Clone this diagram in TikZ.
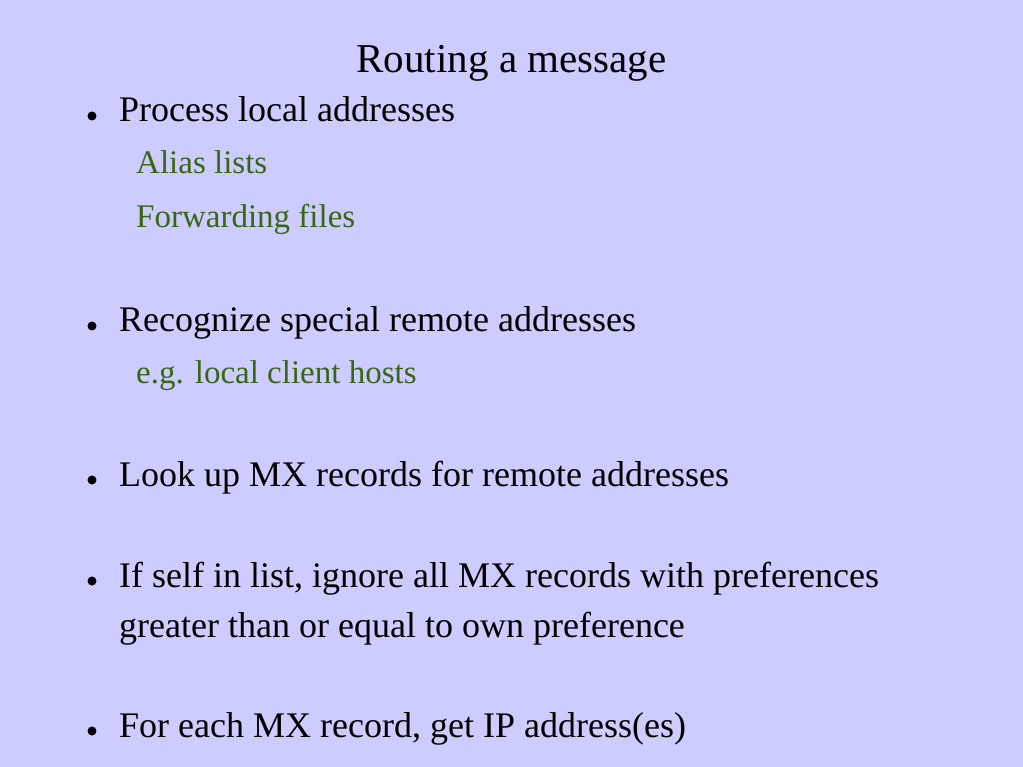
\documentclass[tikz,border=0pt]{standalone}
\usepackage{fontspec}
\setmainfont{Liberation Serif}
\definecolor{bg}{RGB}{204,204,255}
\definecolor{sub}{RGB}{58,102,20}
\begin{document}
\begin{tikzpicture}[x=1pt,y=-1pt,
  main/.style={anchor=base west,inner sep=0pt,font=\fontsize{36}{40}\selectfont,text=black},
  subt/.style={anchor=base west,inner sep=0pt,font=\fontsize{33}{36}\selectfont,text=sub},
  ttl/.style={anchor=base,inner sep=0pt,font=\fontsize{41}{44}\selectfont,text=black},
  dot/.style={circle,fill=black,inner sep=0pt,minimum size=9pt}]
\fill[bg] (0,0) rectangle (1023,767);
\useasboundingbox (0,0) rectangle (1023,767);
\node[ttl] (title) at (511.5,73) {Routing a message};
\node[dot] (b1) at (92,116) {};
\node[main] (t1) at (119,122) {Process local addresses};
\node[subt] (s1) at (136,174) {Alias lists};
\node[subt] (s2) at (136,228) {Forwarding files};
\node[dot] (b2) at (92,326) {};
\node[main] (t2) at (119,332) {Recognize special remote addresses};
\node[subt] (s3) at (136,383) {e.g. local client hosts};
\node[dot] (b3) at (92,480) {};
\node[main] (t3) at (119,486) {Look up MX records for remote addresses};
\node[dot] (b4) at (92,581) {};
\node[main] (t4) at (119,587) {If self in list, ignore all MX records with preferences};
\node[main] (t5) at (119,637) {greater than or equal to own preference};
\node[dot] (b5) at (92,731) {};
\node[main] (t6) at (119,737) {For each MX record, get IP address(es)};
\end{tikzpicture}
\end{document}
